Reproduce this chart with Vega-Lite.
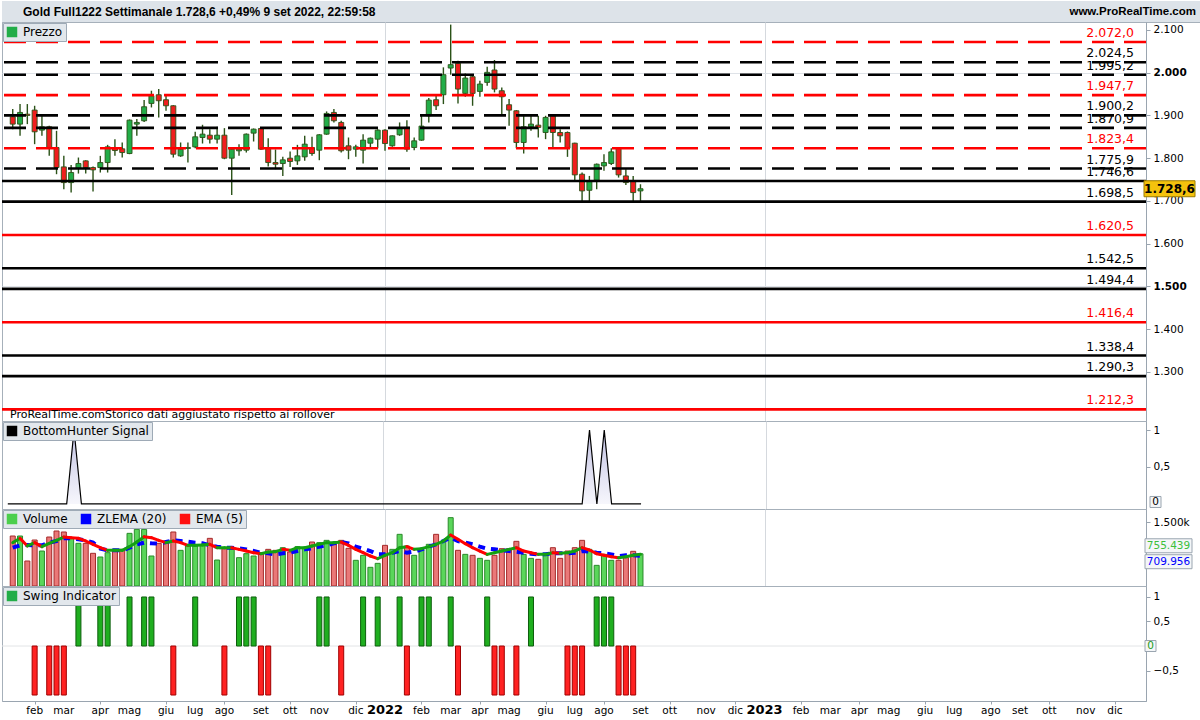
{
"$schema":"https://vega.github.io/schema/vega-lite/v6.json",
"padding":{"left":0,"top":0,"right":0,"bottom":20},
"spacing":0,
"bounds":"flush",
"background":"white",
"datasets":{
"w":[
{"d":"2021-01-11","o":1897.0,"h":1914.9,"l":1868.0,"c":1879.8,"v":1172,"ema":1016,"zl":898,"sw":0,"bh":0},
{"d":"2021-01-18","o":1879.8,"h":1926.7,"l":1852.4,"c":1907.1,"v":1172,"ema":1117,"zl":953,"sw":0,"bh":0},
{"d":"2021-01-25","o":1903.0,"h":1926.7,"l":1879.8,"c":1900.0,"v":586,"ema":938,"zl":961,"sw":0,"bh":0},
{"d":"2021-02-01","o":1912.6,"h":1922.7,"l":1832.9,"c":1861.8,"v":1078,"ema":1016,"zl":953,"sw":-1,"bh":0},
{"d":"2021-02-08","o":1865.7,"h":1903.2,"l":1852.4,"c":1873.5,"v":820,"ema":922,"zl":953,"sw":0,"bh":0},
{"d":"2021-02-15","o":1873.5,"h":1875.9,"l":1805.5,"c":1825.1,"v":1148,"ema":1000,"zl":1016,"sw":-1,"bh":0},
{"d":"2021-02-22","o":1825.1,"h":1864.1,"l":1762.6,"c":1778.2,"v":1289,"ema":1070,"zl":1055,"sw":-1,"bh":0},
{"d":"2021-03-01","o":1779.7,"h":1805.5,"l":1727.4,"c":1743.0,"v":1266,"ema":1148,"zl":1117,"sw":-1,"bh":0},
{"d":"2021-03-08","o":1743.0,"h":1784.4,"l":1719.6,"c":1766.5,"v":1133,"ema":1133,"zl":1117,"sw":0,"bh":0},
{"d":"2021-03-15","o":1776.6,"h":1801.6,"l":1764.1,"c":1787.6,"v":1000,"ema":1117,"zl":1094,"sw":1,"bh":1},
{"d":"2021-03-22","o":1793.8,"h":1795.4,"l":1764.1,"c":1778.2,"v":1000,"ema":1055,"zl":1070,"sw":0,"bh":0},
{"d":"2021-03-29","o":1778.2,"h":1780.5,"l":1721.9,"c":1772.7,"v":766,"ema":977,"zl":1016,"sw":0,"bh":0},
{"d":"2021-04-05","o":1778.2,"h":1805.5,"l":1766.5,"c":1789.9,"v":680,"ema":898,"zl":875,"sw":1,"bh":0},
{"d":"2021-04-12","o":1789.9,"h":1831.3,"l":1766.5,"c":1826.6,"v":781,"ema":836,"zl":836,"sw":1,"bh":0},
{"d":"2021-04-19","o":1825.1,"h":1844.6,"l":1805.5,"c":1818.0,"v":859,"ema":836,"zl":836,"sw":0,"bh":0},
{"d":"2021-04-26","o":1822.0,"h":1836.8,"l":1801.6,"c":1813.3,"v":859,"ema":836,"zl":836,"sw":0,"bh":0},
{"d":"2021-05-03","o":1811.0,"h":1890.7,"l":1809.4,"c":1889.1,"v":1234,"ema":922,"zl":898,"sw":1,"bh":0},
{"d":"2021-05-10","o":1879.8,"h":1891.5,"l":1852.4,"c":1883.7,"v":1328,"ema":1031,"zl":977,"sw":0,"bh":0},
{"d":"2021-05-17","o":1887.6,"h":1936.0,"l":1885.0,"c":1920.4,"v":1328,"ema":1156,"zl":1016,"sw":1,"bh":0},
{"d":"2021-05-24","o":1928.2,"h":1957.9,"l":1918.8,"c":1946.2,"v":703,"ema":1133,"zl":1000,"sw":1,"bh":0},
{"d":"2021-05-31","o":1948.5,"h":1961.8,"l":1895.4,"c":1934.5,"v":1000,"ema":1070,"zl":992,"sw":0,"bh":0},
{"d":"2021-06-07","o":1936.8,"h":1948.5,"l":1911.0,"c":1922.7,"v":1031,"ema":1016,"zl":1031,"sw":0,"bh":0},
{"d":"2021-06-14","o":1922.7,"h":1924.0,"l":1801.6,"c":1809.4,"v":1266,"ema":1055,"zl":1070,"sw":-1,"bh":0},
{"d":"2021-06-21","o":1805.5,"h":1836.8,"l":1803.2,"c":1821.2,"v":836,"ema":1016,"zl":1055,"sw":0,"bh":0},
{"d":"2021-06-28","o":1822.7,"h":1836.8,"l":1789.9,"c":1825.1,"v":938,"ema":953,"zl":1039,"sw":0,"bh":0},
{"d":"2021-07-05","o":1826.6,"h":1861.8,"l":1823.5,"c":1850.1,"v":938,"ema":953,"zl":1016,"sw":1,"bh":0},
{"d":"2021-07-12","o":1848.5,"h":1878.2,"l":1834.4,"c":1856.3,"v":953,"ema":961,"zl":1000,"sw":0,"bh":0},
{"d":"2021-07-19","o":1853.9,"h":1868.0,"l":1834.4,"c":1844.6,"v":1117,"ema":977,"zl":953,"sw":0,"bh":0},
{"d":"2021-07-26","o":1844.6,"h":1873.5,"l":1834.4,"c":1853.9,"v":609,"ema":898,"zl":922,"sw":0,"bh":0},
{"d":"2021-08-02","o":1853.9,"h":1870.4,"l":1797.7,"c":1800.1,"v":875,"ema":898,"zl":898,"sw":-1,"bh":0},
{"d":"2021-08-09","o":1800.1,"h":1825.1,"l":1714.1,"c":1821.2,"v":859,"ema":898,"zl":898,"sw":0,"bh":0},
{"d":"2021-08-16","o":1817.3,"h":1832.9,"l":1805.5,"c":1821.2,"v":664,"ema":859,"zl":883,"sw":1,"bh":0},
{"d":"2021-08-23","o":1818.8,"h":1857.9,"l":1813.3,"c":1856.3,"v":758,"ema":820,"zl":859,"sw":1,"bh":0},
{"d":"2021-08-30","o":1858.7,"h":1869.6,"l":1839.1,"c":1868.0,"v":703,"ema":781,"zl":820,"sw":1,"bh":0},
{"d":"2021-09-06","o":1869.6,"h":1870.4,"l":1820.0,"c":1821.2,"v":781,"ema":758,"zl":781,"sw":-1,"bh":0},
{"d":"2021-09-13","o":1823.5,"h":1846.9,"l":1780.5,"c":1789.9,"v":859,"ema":797,"zl":766,"sw":-1,"bh":0},
{"d":"2021-09-20","o":1789.9,"h":1820.4,"l":1774.3,"c":1786.0,"v":836,"ema":805,"zl":742,"sw":0,"bh":0},
{"d":"2021-09-27","o":1787.6,"h":1803.2,"l":1758.6,"c":1796.2,"v":898,"ema":859,"zl":766,"sw":0,"bh":0},
{"d":"2021-10-04","o":1800.1,"h":1815.7,"l":1779.7,"c":1792.3,"v":797,"ema":836,"zl":781,"sw":0,"bh":0},
{"d":"2021-10-11","o":1793.8,"h":1831.3,"l":1784.4,"c":1805.5,"v":922,"ema":898,"zl":820,"sw":0,"bh":0},
{"d":"2021-10-18","o":1803.2,"h":1852.4,"l":1793.8,"c":1832.9,"v":906,"ema":898,"zl":859,"sw":0,"bh":0},
{"d":"2021-10-25","o":1825.1,"h":1850.1,"l":1805.5,"c":1811.0,"v":1031,"ema":938,"zl":883,"sw":0,"bh":0},
{"d":"2021-11-01","o":1818.8,"h":1856.3,"l":1795.4,"c":1854.8,"v":1016,"ema":977,"zl":922,"sw":1,"bh":0},
{"d":"2021-11-08","o":1856.3,"h":1909.5,"l":1854.8,"c":1904.8,"v":1070,"ema":1016,"zl":953,"sw":1,"bh":0},
{"d":"2021-11-15","o":1907.1,"h":1914.9,"l":1883.7,"c":1887.6,"v":992,"ema":1016,"zl":1000,"sw":0,"bh":0},
{"d":"2021-11-22","o":1883.7,"h":1887.6,"l":1813.3,"c":1817.3,"v":1070,"ema":1031,"zl":1031,"sw":-1,"bh":0},
{"d":"2021-11-29","o":1829.0,"h":1848.5,"l":1797.7,"c":1818.8,"v":883,"ema":953,"zl":1000,"sw":0,"bh":0},
{"d":"2021-12-06","o":1821.2,"h":1831.3,"l":1803.2,"c":1826.6,"v":602,"ema":859,"zl":922,"sw":0,"bh":0},
{"d":"2021-12-13","o":1818.8,"h":1856.3,"l":1787.6,"c":1842.3,"v":719,"ema":781,"zl":875,"sw":1,"bh":0},
{"d":"2021-12-20","o":1835.2,"h":1848.5,"l":1823.5,"c":1846.9,"v":438,"ema":703,"zl":820,"sw":0,"bh":0},
{"d":"2021-12-27","o":1844.6,"h":1868.0,"l":1823.5,"c":1865.7,"v":531,"ema":641,"zl":742,"sw":1,"bh":0},
{"d":"2022-01-03","o":1865.7,"h":1868.0,"l":1817.3,"c":1834.4,"v":953,"ema":719,"zl":742,"sw":0,"bh":0},
{"d":"2022-01-10","o":1829.0,"h":1853.0,"l":1826.6,"c":1852.4,"v":859,"ema":781,"zl":781,"sw":0,"bh":0},
{"d":"2022-01-17","o":1854.8,"h":1883.7,"l":1852.4,"c":1870.4,"v":1211,"ema":898,"zl":820,"sw":1,"bh":0},
{"d":"2022-01-24","o":1872.0,"h":1889.1,"l":1814.9,"c":1821.2,"v":938,"ema":922,"zl":781,"sw":-1,"bh":0},
{"d":"2022-01-31","o":1825.1,"h":1848.5,"l":1818.8,"c":1840.7,"v":719,"ema":859,"zl":805,"sw":0,"bh":0},
{"d":"2022-02-07","o":1842.3,"h":1901.6,"l":1840.7,"c":1875.1,"v":859,"ema":875,"zl":859,"sw":1,"bh":0},
{"d":"2022-02-14","o":1899.3,"h":1940.7,"l":1883.7,"c":1936.0,"v":977,"ema":922,"zl":922,"sw":1,"bh":0},
{"d":"2022-02-21","o":1936.8,"h":1946.2,"l":1912.6,"c":1922.7,"v":1211,"ema":977,"zl":977,"sw":0,"bh":0},
{"d":"2022-02-28","o":1948.5,"h":2012.6,"l":1926.7,"c":1995.4,"v":1055,"ema":1055,"zl":1055,"sw":0,"bh":0},
{"d":"2022-03-07","o":2011.0,"h":2112.6,"l":1995.4,"c":2018.9,"v":1602,"ema":1195,"zl":1133,"sw":1,"bh":0},
{"d":"2022-03-14","o":2022.0,"h":2028.2,"l":1928.2,"c":1961.8,"v":836,"ema":1094,"zl":1055,"sw":-1,"bh":0},
{"d":"2022-03-21","o":1951.7,"h":1998.5,"l":1943.8,"c":1987.6,"v":742,"ema":992,"zl":1016,"sw":0,"bh":0},
{"d":"2022-03-28","o":1990.7,"h":1993.1,"l":1922.7,"c":1951.7,"v":719,"ema":898,"zl":977,"sw":0,"bh":0},
{"d":"2022-04-04","o":1956.3,"h":1981.3,"l":1943.8,"c":1973.5,"v":648,"ema":820,"zl":922,"sw":0,"bh":0},
{"d":"2022-04-11","o":1977.4,"h":2014.2,"l":1969.6,"c":2000.9,"v":602,"ema":742,"zl":875,"sw":1,"bh":0},
{"d":"2022-04-18","o":2006.4,"h":2029.8,"l":1954.0,"c":1961.8,"v":719,"ema":781,"zl":859,"sw":-1,"bh":0},
{"d":"2022-04-25","o":1957.9,"h":1965.7,"l":1901.6,"c":1943.8,"v":875,"ema":820,"zl":836,"sw":-1,"bh":0},
{"d":"2022-05-02","o":1925.1,"h":1938.4,"l":1875.9,"c":1912.6,"v":875,"ema":859,"zl":820,"sw":0,"bh":0},
{"d":"2022-05-09","o":1911.0,"h":1912.6,"l":1823.5,"c":1836.8,"v":1047,"ema":898,"zl":805,"sw":-1,"bh":0},
{"d":"2022-05-16","o":1836.8,"h":1901.6,"l":1811.0,"c":1873.5,"v":742,"ema":820,"zl":781,"sw":0,"bh":0},
{"d":"2022-05-23","o":1873.5,"h":1899.3,"l":1864.1,"c":1879.8,"v":648,"ema":781,"zl":758,"sw":1,"bh":0},
{"d":"2022-05-30","o":1877.4,"h":1899.3,"l":1848.5,"c":1872.0,"v":625,"ema":742,"zl":742,"sw":0,"bh":0},
{"d":"2022-06-06","o":1860.2,"h":1899.3,"l":1844.6,"c":1895.4,"v":719,"ema":742,"zl":742,"sw":0,"bh":0},
{"d":"2022-06-13","o":1899.3,"h":1903.2,"l":1825.1,"c":1860.2,"v":898,"ema":781,"zl":766,"sw":0,"bh":0},
{"d":"2022-06-20","o":1860.2,"h":1868.0,"l":1836.8,"c":1852.4,"v":648,"ema":766,"zl":766,"sw":0,"bh":0},
{"d":"2022-06-27","o":1860.2,"h":1862.6,"l":1803.2,"c":1823.5,"v":820,"ema":781,"zl":766,"sw":-1,"bh":0},
{"d":"2022-07-04","o":1835.2,"h":1836.0,"l":1748.5,"c":1761.0,"v":898,"ema":820,"zl":781,"sw":-1,"bh":0},
{"d":"2022-07-11","o":1762.6,"h":1766.5,"l":1700.0,"c":1723.5,"v":1070,"ema":898,"zl":820,"sw":-1,"bh":0},
{"d":"2022-07-18","o":1725.0,"h":1758.6,"l":1700.0,"c":1745.4,"v":859,"ema":844,"zl":805,"sw":0,"bh":1},
{"d":"2022-07-25","o":1748.5,"h":1787.6,"l":1727.4,"c":1786.0,"v":484,"ema":758,"zl":781,"sw":1,"bh":0},
{"d":"2022-08-01","o":1782.1,"h":1809.4,"l":1770.4,"c":1789.9,"v":742,"ema":719,"zl":766,"sw":1,"bh":1},
{"d":"2022-08-08","o":1787.6,"h":1823.5,"l":1784.4,"c":1814.9,"v":602,"ema":688,"zl":742,"sw":1,"bh":0},
{"d":"2022-08-15","o":1822.7,"h":1823.5,"l":1754.7,"c":1761.0,"v":602,"ema":664,"zl":703,"sw":-1,"bh":0},
{"d":"2022-08-22","o":1758.6,"h":1774.3,"l":1737.5,"c":1743.0,"v":664,"ema":688,"zl":719,"sw":-1,"bh":0},
{"d":"2022-08-29","o":1746.9,"h":1758.6,"l":1700.0,"c":1719.6,"v":813,"ema":719,"zl":719,"sw":-1,"bh":0},
{"d":"2022-09-05","o":1723.5,"h":1739.1,"l":1700.0,"c":1728.6,"v":755,"ema":742,"zl":710,"sw":0,"bh":0}
],
"lv":[
{"lvl":2072.0,"lab":"2.072,0","k":"r","st":"d"},
{"lvl":2024.5,"lab":"2.024,5","k":"b","st":"d"},
{"lvl":1995.2,"lab":"1.995,2","k":"b","st":"d"},
{"lvl":1947.7,"lab":"1.947,7","k":"r","st":"d"},
{"lvl":1900.2,"lab":"1.900,2","k":"b","st":"d"},
{"lvl":1870.9,"lab":"1.870,9","k":"b","st":"d"},
{"lvl":1823.4,"lab":"1.823,4","k":"r","st":"d"},
{"lvl":1775.9,"lab":"1.775,9","k":"b","st":"d"},
{"lvl":1746.6,"lab":"1.746,6","k":"b","st":"s"},
{"lvl":1698.5,"lab":"1.698,5","k":"b","st":"s"},
{"lvl":1620.5,"lab":"1.620,5","k":"r","st":"s"},
{"lvl":1542.5,"lab":"1.542,5","k":"b","st":"s"},
{"lvl":1494.4,"lab":"1.494,4","k":"b","st":"s"},
{"lvl":1416.4,"lab":"1.416,4","k":"r","st":"s"},
{"lvl":1338.4,"lab":"1.338,4","k":"b","st":"s"},
{"lvl":1290.3,"lab":"1.290,3","k":"b","st":"s"},
{"lvl":1212.3,"lab":"1.212,3","k":"r","st":"s"}
],
"xl":[
{"d":"2021-02-01","lab":"feb","b":0},{"d":"2021-03-01","lab":"mar","b":0},{"d":"2021-04-05","lab":"apr","b":0},{"d":"2021-05-03","lab":"mag","b":0},{"d":"2021-06-07","lab":"giu","b":0},{"d":"2021-07-05","lab":"lug","b":0},{"d":"2021-08-02","lab":"ago","b":0},{"d":"2021-09-06","lab":"set","b":0},{"d":"2021-10-04","lab":"ott","b":0},{"d":"2021-11-01","lab":"nov","b":0},{"d":"2021-12-06","lab":"dic","b":0},
{"d":"2022-01-03","lab":"2022","b":1},{"d":"2022-02-07","lab":"feb","b":0},{"d":"2022-03-07","lab":"mar","b":0},{"d":"2022-04-04","lab":"apr","b":0},{"d":"2022-05-02","lab":"mag","b":0},{"d":"2022-06-06","lab":"giu","b":0},{"d":"2022-07-04","lab":"lug","b":0},{"d":"2022-08-01","lab":"ago","b":0},{"d":"2022-09-05","lab":"set","b":0},{"d":"2022-10-03","lab":"ott","b":0},{"d":"2022-11-07","lab":"nov","b":0},{"d":"2022-12-05","lab":"dic","b":0},
{"d":"2023-01-02","lab":"2023","b":1},{"d":"2023-02-06","lab":"feb","b":0},{"d":"2023-03-06","lab":"mar","b":0},{"d":"2023-04-03","lab":"apr","b":0},{"d":"2023-05-01","lab":"mag","b":0},{"d":"2023-06-05","lab":"giu","b":0},{"d":"2023-07-03","lab":"lug","b":0},{"d":"2023-08-07","lab":"ago","b":0},{"d":"2023-09-04","lab":"set","b":0},{"d":"2023-10-02","lab":"ott","b":0},{"d":"2023-11-06","lab":"nov","b":0},{"d":"2023-12-04","lab":"dic","b":0}
]
},
"config":{
"view":{"stroke":"#a6b0ba","strokeWidth":1},
"axis":{"domainColor":"#9aa5b0","tickColor":"#9aa5b0","labelColor":"#000000","labelFont":"DejaVu Sans","labelFontSize":10.5,"tickSize":4,"labelPadding":3,"title":null},
"legend":{"orient":"top-left","offset":1,"padding":3,"fillColor":"#e2e7ec","strokeColor":"#9eaab6","symbolType":"square","symbolSize":110,"symbolOpacity":1,"symbolStrokeWidth":0,"labelFontSize":12,"labelFont":"DejaVu Sans","labelColor":"#000000","direction":"horizontal","columnPadding":12,"labelOffset":5}
},
"resolve":{"scale":{"x":"independent","y":"independent","color":"independent"},"legend":{"color":"independent"}},
"vconcat":[
{
"width":1200,"height":21,
"data":{"values":[{"t":"Gold Full1222 Settimanale 1.728,6 +0,49% 9 set 2022, 22:59:58","r":"www.ProRealTime.com","a":0,"b":1}]},
"layer":[
{"mark":{"type":"rect","color":"#dde3e9"},
 "encoding":{"x":{"field":"a","type":"quantitative","scale":{"domain":[0,1]},"axis":null},"x2":{"field":"b"}}},
{"mark":{"type":"text","font":"Liberation Sans","fontWeight":"bold","fontSize":12,"align":"left","baseline":"middle","dx":21,"color":"#000000"},
 "encoding":{"x":{"field":"a","type":"quantitative"},"text":{"field":"t"}}},
{"mark":{"type":"text","font":"Liberation Sans","fontWeight":"bold","fontSize":11.5,"align":"right","baseline":"middle","dx":-6,"color":"#000000"},
 "encoding":{"x":{"field":"b","type":"quantitative"},"text":{"field":"r"}}}
]
},
{
"width":1144,"height":399,
"layer":[
{"data":{"name":"w"},
 "mark":{"type":"rule","color":"#2b5218","strokeWidth":1.4},
 "encoding":{
  "x":{"field":"d","type":"temporal","scale":{"type":"utc","domain":[{"year":2021,"month":1,"date":5,"hours":12,"utc":true},{"year":2023,"month":12,"date":29,"utc":true}]},
       "axis":{"values":[{"year":2022,"month":1,"date":3,"utc":true},{"year":2023,"month":1,"date":2,"utc":true}],"labels":false,"ticks":false,"domain":false,"grid":true,"gridColor":"#d5d9de"}},
  "y":{"field":"l","type":"quantitative","scale":{"domain":[1185.2,2118.7],"nice":false,"zero":false},
       "axis":{"orient":"right","values":[1300,1400,1500,1600,1700,1800,1900,2000,2100],"labelExpr":"replace(format(datum.value, ',.0f'), ',', '.')","labelFontWeight":{"condition":{"test":"datum.value==2000||datum.value==1500","value":"bold"},"value":"normal"},"grid":true,"gridColor":"#dfe3e8","gridOpacity":{"condition":{"test":"datum.value==2000||datum.value==1500","value":1},"value":0}}},
  "y2":{"field":"h"}}},
{"data":{"name":"w"},
 "mark":{"type":"bar","size":5,"stroke":"#2b5218","strokeWidth":0.9},
 "encoding":{
  "x":{"field":"d","type":"temporal"},
  "y":{"field":"o","type":"quantitative"},
  "y2":{"field":"c"},
  "color":{"condition":{"test":"datum.c>=datum.o","value":"#22ad48"},"value":"#f01e1e"}}},
{"data":{"name":"lv"},
 "mark":{"type":"rule","strokeWidth":2.6},
 "encoding":{
  "y":{"field":"lvl","type":"quantitative"},
  "color":{"condition":{"test":"datum.k=='r'","value":"#ff0000"},"value":"#000000"},
  "strokeDash":{"condition":{"test":"datum.st=='d'","value":[22,10]},"value":[1,0]}}},
{"data":{"name":"lv"},
 "mark":{"type":"text","align":"right","baseline":"bottom","dx":-7,"dy":-2,"fontSize":12.5,"font":"DejaVu Sans"},
 "encoding":{
  "x":{"datum":{"year":2023,"month":12,"date":29,"utc":true},"type":"temporal"},
  "y":{"field":"lvl","type":"quantitative"},
  "text":{"field":"lab"},
  "color":{"condition":{"test":"datum.k=='r'","value":"#ff0000"},"value":"#000000"}}},
{"data":{"values":[{"t":"ProRealTime.comStorico dati aggiustato rispetto ai rollover","p":1199}]},
 "mark":{"type":"text","align":"left","baseline":"middle","dx":3,"fontSize":11,"font":"DejaVu Sans","color":"#000000"},
 "encoding":{
  "x":{"datum":{"year":2021,"month":1,"date":5,"hours":12,"utc":true},"type":"temporal"},
  "y":{"field":"p","type":"quantitative"},
  "text":{"field":"t"}}},
{"data":{"values":[{"p":1728.6,"t":"1.728,6"}]},
 "mark":{"type":"point","shape":"M-1,-0.3137H1V0.3137H-1Z","size":2601,"filled":true,"color":"#f4c20d","stroke":"#9c7d00","strokeWidth":1,"opacity":1,"xOffset":28.5},
 "encoding":{
  "x":{"datum":{"year":2023,"month":12,"date":29,"utc":true},"type":"temporal"},
  "y":{"field":"p","type":"quantitative"}}},
{"data":{"values":[{"p":1728.6,"t":"1.728,6"}]},
 "mark":{"type":"text","align":"center","baseline":"middle","dx":28.5,"fontSize":12,"fontWeight":"bold","font":"DejaVu Sans","color":"#000000"},
 "encoding":{
  "x":{"datum":{"year":2023,"month":12,"date":29,"utc":true},"type":"temporal"},
  "y":{"field":"p","type":"quantitative"},
  "text":{"field":"t"}}},
{"data":{"values":[{"k":"Prezzo"}]},
 "mark":{"type":"square","opacity":0},
 "encoding":{"color":{"field":"k","type":"nominal","scale":{"domain":["Prezzo"],"range":["#22ad48"]},"legend":{"title":null}}}}
]
},
{
"width":1144,"height":88,
"layer":[
{"data":{"name":"w"},
 "mark":{"type":"area","interpolate":"linear","line":{"color":"#000000","strokeWidth":1.2},"color":{"gradient":"linear","x1":0,"y1":0,"x2":0,"y2":1,"stops":[{"offset":0,"color":"#a8a8d6"},{"offset":1,"color":"#f3f3fb"}]}},
 "encoding":{
  "x":{"field":"d","type":"temporal","scale":{"type":"utc","domain":[{"year":2021,"month":1,"date":5,"hours":12,"utc":true},{"year":2023,"month":12,"date":29,"utc":true}]},
       "axis":{"values":[{"year":2022,"month":1,"date":3,"utc":true},{"year":2023,"month":1,"date":2,"utc":true}],"labels":false,"ticks":false,"domain":false,"grid":true,"gridColor":"#d5d9de"}},
  "y":{"field":"bh","type":"quantitative","scale":{"domain":[-0.068,1.122],"nice":false,"zero":false},
       "axis":{"orient":"right","values":[0.5,1],"labelExpr":"replace(format(datum.value, '.1~f'), '.', ',')","grid":false}}}},
{"data":{"values":[{"p":0,"t":"0"}]},
 "mark":{"type":"point","shape":"square","size":121,"filled":true,"color":"#f4f6f8","stroke":"#9aa5b0","strokeWidth":1,"opacity":1,"xOffset":9.5,"yOffset":-2},
 "encoding":{"x":{"datum":{"year":2023,"month":12,"date":29,"utc":true},"type":"temporal"},"y":{"field":"p","type":"quantitative"}}},
{"data":{"values":[{"p":0,"t":"0"}]},
 "mark":{"type":"text","align":"center","baseline":"middle","dx":9.5,"dy":-2,"fontSize":10.5,"font":"DejaVu Sans","color":"#000000"},
 "encoding":{"x":{"datum":{"year":2023,"month":12,"date":29,"utc":true},"type":"temporal"},"y":{"field":"p","type":"quantitative"},"text":{"field":"t"}}},
{"data":{"values":[{"k":"BottomHunter Signal"}]},
 "mark":{"type":"square","opacity":0},
 "encoding":{"color":{"field":"k","type":"nominal","scale":{"domain":["BottomHunter Signal"],"range":["#000000"]},"legend":{"title":null}}}}
]
},
{
"width":1144,"height":77,
"layer":[
{"data":{"name":"w"},
 "mark":{"type":"bar","size":5,"strokeWidth":1},
 "encoding":{
  "x":{"field":"d","type":"temporal","scale":{"type":"utc","domain":[{"year":2021,"month":1,"date":5,"hours":12,"utc":true},{"year":2023,"month":12,"date":29,"utc":true}]},
       "axis":{"values":[{"year":2022,"month":1,"date":3,"utc":true},{"year":2023,"month":1,"date":2,"utc":true}],"labels":false,"ticks":false,"domain":false,"grid":true,"gridColor":"#d5d9de"}},
  "y":{"field":"v","type":"quantitative","scale":{"domain":[0,1805],"nice":false},
       "axis":{"orient":"right","values":[1500],"labelExpr":"'1.500k'","grid":false}},
  "color":{"condition":{"test":"datum.c>=datum.o","value":"#5ad65a"},"value":"#ea7878"},
  "stroke":{"condition":{"test":"datum.c>=datum.o","value":"#2a8a2a"},"value":"#a52a2a"}}},
{"data":{"name":"w"},
 "mark":{"type":"line","color":"#0000ff","strokeWidth":4,"strokeDash":[7,6]},
 "encoding":{"x":{"field":"d","type":"temporal"},"y":{"field":"zl","type":"quantitative"}}},
{"data":{"name":"w"},
 "transform":[{"window":[{"op":"lead","field":"ema","as":"ema2"},{"op":"lead","field":"d","as":"d2"}],"sort":[{"field":"d","order":"ascending"}]},{"filter":"datum.ema2 != null"}],
 "mark":{"type":"rule","strokeWidth":3,"strokeCap":"round"},
 "encoding":{"x":{"field":"d","type":"temporal"},"x2":{"field":"d2"},"y":{"field":"ema","type":"quantitative"},"y2":{"field":"ema2"},
  "color":{"condition":{"test":"datum.ema2>=datum.ema","value":"#12a012"},"value":"#ff0000"}}},
{"data":{"values":[{"p":755.439,"t":"755.439"}]},
 "mark":{"type":"point","shape":"M-1,-0.298H1V0.298H-1Z","size":2209,"filled":true,"color":"#f4f6f8","stroke":"#9aa5b0","strokeWidth":1,"opacity":1,"xOffset":27.5,"yOffset":-8},
 "encoding":{"x":{"datum":{"year":2023,"month":12,"date":29,"utc":true},"type":"temporal"},"y":{"field":"p","type":"quantitative"}}},
{"data":{"values":[{"p":755.439,"t":"755.439"}]},
 "mark":{"type":"text","align":"center","baseline":"middle","dx":27.5,"dy":-8,"fontSize":10.5,"font":"DejaVu Sans","color":"#3cbf3c"},
 "encoding":{"x":{"datum":{"year":2023,"month":12,"date":29,"utc":true},"type":"temporal"},"y":{"field":"p","type":"quantitative"},"text":{"field":"t"}}},
{"data":{"values":[{"p":709.956,"t":"709.956"}]},
 "mark":{"type":"point","shape":"M-1,-0.298H1V0.298H-1Z","size":2209,"filled":true,"color":"#f4f6f8","stroke":"#9aa5b0","strokeWidth":1,"opacity":1,"xOffset":27.5,"yOffset":6},
 "encoding":{"x":{"datum":{"year":2023,"month":12,"date":29,"utc":true},"type":"temporal"},"y":{"field":"p","type":"quantitative"}}},
{"data":{"values":[{"p":709.956,"t":"709.956"}]},
 "mark":{"type":"text","align":"center","baseline":"middle","dx":27.5,"dy":6,"fontSize":10.5,"font":"DejaVu Sans","color":"#0000ff"},
 "encoding":{"x":{"datum":{"year":2023,"month":12,"date":29,"utc":true},"type":"temporal"},"y":{"field":"p","type":"quantitative"},"text":{"field":"t"}}},
{"data":{"values":[{"k":"Volume"},{"k":"ZLEMA (20)"},{"k":"EMA (5)"}]},
 "mark":{"type":"square","opacity":0},
 "encoding":{"color":{"field":"k","type":"nominal","scale":{"domain":["Volume","ZLEMA (20)","EMA (5)"],"range":["#4ccf4c","#0000ff","#ff1010"]},"legend":{"title":null}}}}
]
},
{
"width":1144,"height":115,
"layer":[
{"data":{"values":[{"z":0}]},
 "mark":{"type":"rule","color":"#e2e4e6","strokeWidth":1},
 "encoding":{"y":{"field":"z","type":"quantitative","scale":{"domain":[-1.122,1.224],"nice":false,"zero":false},
   "axis":{"orient":"right","values":[1,0.5,-0.5],"labelExpr":"replace(replace(format(datum.value, '.1~f'), '.', ','), '-', '\u2212')","grid":false}}}},
{"data":{"name":"w"},
 "transform":[{"filter":"datum.sw != 0"}],
 "mark":{"type":"bar","size":5,"strokeWidth":1},
 "encoding":{
  "x":{"field":"d","type":"temporal","scale":{"type":"utc","domain":[{"year":2021,"month":1,"date":5,"hours":12,"utc":true},{"year":2023,"month":12,"date":29,"utc":true}]},
       "axis":{"values":[
        {"year":2021,"month":2,"date":1,"utc":true},{"year":2021,"month":3,"date":1,"utc":true},{"year":2021,"month":4,"date":5,"utc":true},{"year":2021,"month":5,"date":3,"utc":true},{"year":2021,"month":6,"date":7,"utc":true},{"year":2021,"month":7,"date":5,"utc":true},{"year":2021,"month":8,"date":2,"utc":true},{"year":2021,"month":9,"date":6,"utc":true},{"year":2021,"month":10,"date":4,"utc":true},{"year":2021,"month":11,"date":1,"utc":true},{"year":2021,"month":12,"date":6,"utc":true},
        {"year":2022,"month":1,"date":3,"utc":true},{"year":2022,"month":2,"date":7,"utc":true},{"year":2022,"month":3,"date":7,"utc":true},{"year":2022,"month":4,"date":4,"utc":true},{"year":2022,"month":5,"date":2,"utc":true},{"year":2022,"month":6,"date":6,"utc":true},{"year":2022,"month":7,"date":4,"utc":true},{"year":2022,"month":8,"date":1,"utc":true},{"year":2022,"month":9,"date":5,"utc":true},{"year":2022,"month":10,"date":3,"utc":true},{"year":2022,"month":11,"date":7,"utc":true},{"year":2022,"month":12,"date":5,"utc":true},
        {"year":2023,"month":1,"date":2,"utc":true},{"year":2023,"month":2,"date":6,"utc":true},{"year":2023,"month":3,"date":6,"utc":true},{"year":2023,"month":4,"date":3,"utc":true},{"year":2023,"month":5,"date":1,"utc":true},{"year":2023,"month":6,"date":5,"utc":true},{"year":2023,"month":7,"date":3,"utc":true},{"year":2023,"month":8,"date":7,"utc":true},{"year":2023,"month":9,"date":4,"utc":true},{"year":2023,"month":10,"date":2,"utc":true},{"year":2023,"month":11,"date":6,"utc":true},{"year":2023,"month":12,"date":4,"utc":true}],
        "labels":false,"tickSize":3,
        "grid":true,"gridColor":"#d5d9de","gridOpacity":{"condition":{"test":"utcmonth(datum.value)==0","value":1},"value":0}}},
  "y":{"field":"sw","type":"quantitative"},
  "y2":{"datum":0},
  "color":{"condition":{"test":"datum.sw>0","value":"#1fae1f"},"value":"#ff2222"},
  "stroke":{"condition":{"test":"datum.sw>0","value":"#0d5e0d"},"value":"#a00000"}}},
{"data":{"name":"xl"},
 "transform":[{"filter":"datum.b == 0"}],
 "mark":{"type":"text","align":"center","baseline":"top","dy":5,"fontSize":10.5,"font":"DejaVu Sans","color":"#000000"},
 "encoding":{"x":{"field":"d","type":"temporal"},"y":{"datum":-1.122,"type":"quantitative"},"text":{"field":"lab"}}},
{"data":{"name":"xl"},
 "transform":[{"filter":"datum.b == 1"}],
 "mark":{"type":"text","align":"center","baseline":"top","dy":3,"fontSize":13,"fontWeight":"bold","font":"DejaVu Sans","color":"#000000"},
 "encoding":{"x":{"field":"d","type":"temporal"},"y":{"datum":-1.122,"type":"quantitative"},"text":{"field":"lab"}}},
{"data":{"values":[{"p":0,"t":"0"}]},
 "mark":{"type":"point","shape":"square","size":121,"filled":true,"color":"#f4f6f8","stroke":"#9aa5b0","strokeWidth":1,"opacity":1,"xOffset":9.5},
 "encoding":{"x":{"datum":{"year":2023,"month":12,"date":29,"utc":true},"type":"temporal"},"y":{"field":"p","type":"quantitative"}}},
{"data":{"values":[{"p":0,"t":"0"}]},
 "mark":{"type":"text","align":"center","baseline":"middle","dx":9.5,"fontSize":10.5,"font":"DejaVu Sans","color":"#1a9a1a"},
 "encoding":{"x":{"datum":{"year":2023,"month":12,"date":29,"utc":true},"type":"temporal"},"y":{"field":"p","type":"quantitative"},"text":{"field":"t"}}},
{"data":{"values":[{"k":"Swing Indicator"}]},
 "mark":{"type":"square","opacity":0},
 "encoding":{"color":{"field":"k","type":"nominal","scale":{"domain":["Swing Indicator"],"range":["#22ad48"]},"legend":{"title":null}}}}
]
}
]
}
